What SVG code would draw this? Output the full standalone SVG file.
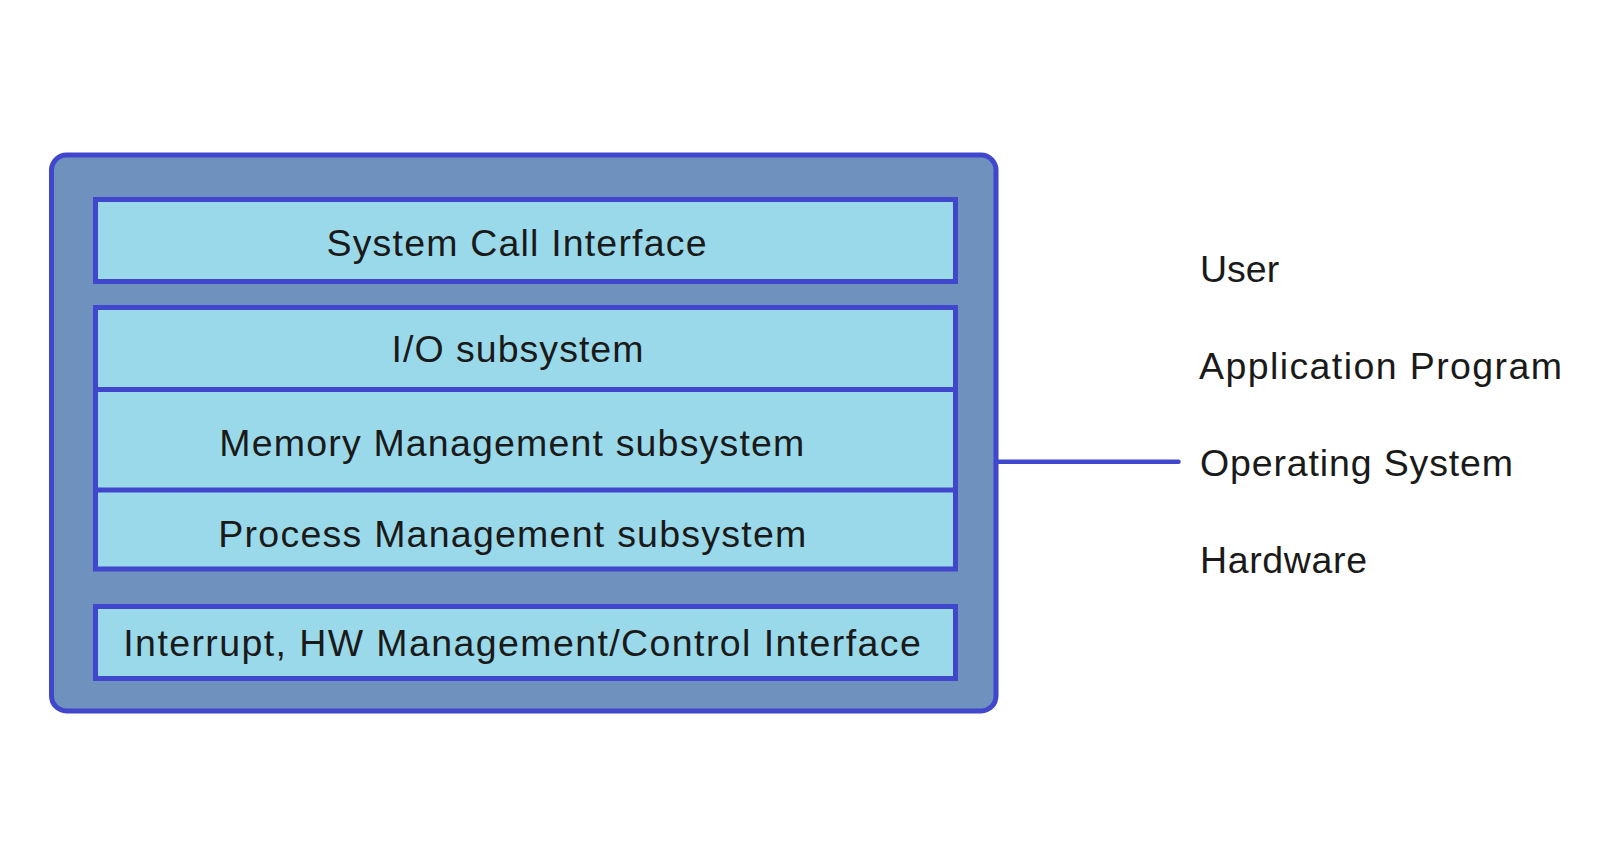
<svg xmlns="http://www.w3.org/2000/svg" width="1618" height="858" viewBox="0 0 1618 858">
  <style>
    .outer { fill: #6F91BD; stroke: #4047CC; stroke-width: 5; }
    .box { fill: #9AD9E9; stroke: #4047CC; stroke-width: 5; }
    .div { stroke: #4047CC; stroke-width: 5; fill: none; }
    .conn { stroke: #4047CC; stroke-width: 4.5; stroke-linecap: round; fill: none; }
    text { font-family: "Liberation Sans", Arial, sans-serif; font-size: 37.5px; fill: #1a1a1a; }
  </style>
  <rect width="1618" height="858" fill="#ffffff"/>
  <g id="os-kernel">
    <rect class="outer" x="51.5" y="155" width="944.5" height="556" rx="15" ry="15"/>
  </g>
  <g id="system-call-interface">
    <rect class="box" x="95.5" y="199.5" width="860" height="82"/>
    <text x="326.5" y="255.5" textLength="380" lengthAdjust="spacing">System Call Interface</text>
  </g>
  <g id="subsystems">
    <rect class="box" x="95.5" y="307.5" width="860" height="261.5"/>
    <line class="div" x1="95.5" y1="389.5" x2="955.5" y2="389.5"/>
    <line class="div" x1="95.5" y1="490" x2="955.5" y2="490"/>
    <g id="io-subsystem">
      <text x="391.5" y="361.5" textLength="252" lengthAdjust="spacing">I/O subsystem</text>
    </g>
    <g id="memory-subsystem">
      <text x="219.3" y="455.5" textLength="585" lengthAdjust="spacing">Memory Management subsystem</text>
    </g>
    <g id="process-subsystem">
      <text x="218.3" y="547.3" textLength="588" lengthAdjust="spacing">Process Management subsystem</text>
    </g>
  </g>
  <g id="hw-interface">
    <rect class="box" x="95.5" y="606.5" width="860" height="72"/>
    <text x="123.3" y="655.5" textLength="797.5" lengthAdjust="spacing">Interrupt, HW Management/Control Interface</text>
  </g>
  <g id="connectors">
    <line class="conn" x1="996" y1="461.7" x2="1178.5" y2="461.7"/>
  </g>
  <g id="label-user">
    <text x="1200" y="282">User</text>
  </g>
  <g id="label-application">
    <text x="1199" y="379.3" textLength="363" lengthAdjust="spacing">Application Program</text>
  </g>
  <g id="label-os">
    <text x="1200" y="476" textLength="313" lengthAdjust="spacing">Operating System</text>
  </g>
  <g id="label-hardware">
    <text x="1200" y="573.3" textLength="167" lengthAdjust="spacing">Hardware</text>
  </g>
</svg>
